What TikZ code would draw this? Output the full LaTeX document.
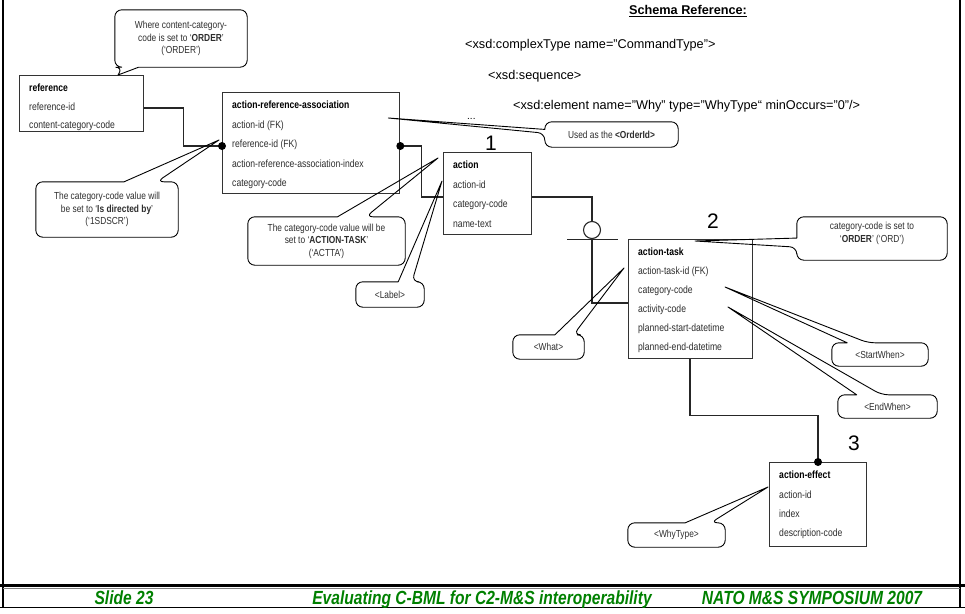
\documentclass[tikz,border=0pt]{standalone}
\usepackage{fontspec}
\setmainfont{Liberation Sans}
\newfontfamily\nar[FakeStretch=0.82]{Liberation Sans}
\usetikzlibrary{calc}
\definecolor{fgreen}{RGB}{0,128,0}
\definecolor{ink}{RGB}{45,45,45}
% callout outlines: #1 node, #2 #3 fractions along side, #4 tip
\newcommand{\callS}[4]{%
  \draw[callline] ($(#1.south west)!#3!(#1.south east)$) [rounded corners=7pt] -- (#1.south east) -- (#1.north east) -- (#1.north west) -- (#1.south west) -- ($(#1.south west)!#2!(#1.south east)$) [sharp corners] -- (#4) -- cycle;}
\newcommand{\callN}[4]{%
  \draw[callline] ($(#1.north west)!#2!(#1.north east)$) [rounded corners=7pt] -- (#1.north west) -- (#1.south west) -- (#1.south east) -- (#1.north east) -- ($(#1.north west)!#3!(#1.north east)$) [sharp corners] -- (#4) -- cycle;}
\newcommand{\callW}[4]{%
  \draw[callline] ($(#1.north west)!#2!(#1.south west)$) [rounded corners=7pt] -- (#1.north west) -- (#1.north east) -- (#1.south east) -- (#1.south west) -- ($(#1.north west)!#3!(#1.south west)$) [sharp corners] -- (#4) -- cycle;}
\newcommand{\errows}[4]{%
  \node[rowhead] (#1-h) at ($(#1.north west)+(10,16.8)$) {#3};
  \foreach \txt [count=\i] in {#4} \node[rowtext] (#1-\i) at ($(#1.north west)+(10,16.8+#2*\i)$) {\txt};}
\begin{document}
\begin{tikzpicture}[x=1pt,y=-1pt,
  erbox/.style={draw=black!80, line width=1.3pt, inner sep=0, anchor=north west},
  rowtext/.style={font=\nar\fontsize{10.5}{12}\selectfont, text=ink, anchor=base west, inner sep=0},
  rowhead/.style={font=\nar\bfseries\fontsize{10.5}{12}\selectfont, text=black, anchor=base west, inner sep=0},
  conn/.style={draw=black!85, line width=1.1pt},
  callbox/.style={inner sep=0, align=center, font=\nar\fontsize{10.2}{12.5}\selectfont, text=ink},
  callline/.style={draw=black, line width=0.9pt, line join=round},
  schema/.style={font=\fontsize{12.7}{15}\selectfont, anchor=base west, inner sep=0},
  num/.style={font=\fontsize{21}{24}\selectfont, anchor=base, inner sep=0},
  foot/.style={font=\nar\bfseries\itshape\fontsize{19}{22}\selectfont, text=fgreen, anchor=base, inner sep=0}]
\useasboundingbox (0,0) rectangle (965,613);

% frame
\draw[line width=2pt] (3,0) -- (3,608);
\draw[line width=2pt] (960,0) -- (960,585);
\draw[line width=1.2pt] (960,585) -- (960,608);
\draw[line width=3pt] (0,585) -- (965,585);
\draw[black!50, line width=0.8pt] (3,588.5) -- (960,588.5);
\draw[line width=1.2pt] (0,607.5) -- (965,607.5);

% footer
\node[foot] (f1) at (124,604) {Slide 23};
\node[foot] (f2) at (482,604) {Evaluating C-BML for C2-M\&S interoperability};
\node[foot] (f3) at (812,604) {NATO M\&S SYMPOSIUM 2007};

% schema text
\node[font=\bfseries\fontsize{12.7}{15}\selectfont, anchor=base, inner sep=0] (sr) at (688,14.5) {\underline{Schema Reference:}};
\node[schema] (x1) at (465,48.5) {<xsd:complexType name="CommandType">};
\node[schema] (x2) at (488,79.5) {<xsd:sequence>};
\node[schema] (x3) at (513,109.5) {<xsd:element name="Why" type="WhyType“ minOccurs="0"/>};
\node[font=\fontsize{10}{12}\selectfont, anchor=base west, inner sep=0] (dots) at (467,119) {...};

% entity boxes
\node[erbox, minimum width=124, minimum height=56] (ref) at (19,75) {};
\errows{ref}{18.5}{reference}{reference-id, content-category-code}
\node[erbox, minimum width=177, minimum height=101] (ara) at (222,92) {};
\errows{ara}{19.5}{action-reference-association}{{action-id (FK)}, {reference-id (FK)}, action-reference-association-index, category-code}
\node[erbox, minimum width=88, minimum height=82] (act) at (443,152) {};
\errows{act}{19.5}{action}{action-id, category-code, name-text}
\node[erbox, minimum width=124, minimum height=119] (task) at (628,239) {};
\errows{task}{19}{action-task}{{action-task-id (FK)}, category-code, activity-code, planned-start-datetime, planned-end-datetime}
\node[erbox, minimum width=97, minimum height=84] (eff) at (769,462) {};
\errows{eff}{19.3}{action-effect}{action-id, index, description-code}

% numbers
\node[num] (n1) at (491,150.5) {1};
\node[num] (n2) at (713,228.5) {2};
\node[num] (n3) at (854,450.5) {3};

% connectors
\draw[conn] ($(ref.north east)+(0,33)$) -- ++(39,0) |- ($(ara.north west)+(0,54)$);
\fill ($(ara.north west)+(0,54)$) circle (4);
\draw[conn] ($(ara.north east)+(0,54)$) -- ++(21,0) |- ($(act.north west)+(0,45)$);
\fill ($(ara.north east)+(0,54)$) circle (4);
\node[draw=black!85, line width=1.1pt, circle, minimum size=17, inner sep=0] (opt) at (592,230) {};
\draw[conn] ($(act.north east)+(0,45)$) -| (opt.north);
\draw[conn] ($(opt.south)+(-25,0)$) -- ($(opt.south)+(26,0)$);
\draw[conn] (opt.south) |- ($(task.north west)+(0,64)$);
\draw[conn] ($(task.south west)+(62,0)$) -- ++(0,56) -| ($(eff.north west)+(49,0)$);
\fill ($(eff.north west)+(49,0)$) circle (4);

% callout tips
\coordinate (tA) at ($(ref.north west)+(99,0)$);
\coordinate (tB) at ($(ara.north west)+(-3,48)$);
\coordinate (tC) at ($(act.north west)+(-5,6)$);
\coordinate (tD) at ($(act.north west)+(-1,29)$);
\coordinate (tE) at ($(ara.north east)+(-12,26)$);
\coordinate (tF) at ($(task.north west)+(67,2)$);
\coordinate (tG) at ($(task.north west)+(97,48)$);
\coordinate (tH) at ($(task.north west)+(100,68)$);
\coordinate (tI) at ($(task.north west)+(-4,29)$);
\coordinate (tJ) at ($(eff.north west)+(-1,25)$);

% callouts
\node[callbox, minimum width=132, minimum height=57] (cA) at (181,38.5) {Where content-category-\\code is set to ‘\textbf{ORDER}’\\(‘ORDER’)};
\callS{cA}{0.06}{0.18}{tA}
\node[callbox, minimum width=142, minimum height=55] (cB) at (107,209.5) {The category-code value will\\be set to ‘\textbf{Is directed by}’\\(‘1SDSCR’)};
\callN{cB}{0.62}{0.85}{tB}
\node[callbox, minimum width=157, minimum height=48] (cC) at (326.5,241) {The category-code value will be\\set to ‘\textbf{ACTION-TASK}’\\(‘ACTTA’)};
\callN{cC}{0.57}{0.75}{tC}
\node[callbox, minimum width=68, minimum height=25] (cD) at (390,294.5) {<Label>};
\callN{cD}{0.62}{0.82}{tD}
\node[callbox, minimum width=133, minimum height=25] (cE) at (611.5,134.5) {Used as the \textbf{<OrderId>}};
\callW{cE}{0.3}{0.45}{tE}
\node[callbox, minimum width=150, minimum height=43] (cF) at (872,238.5) {category-code is set to\\‘\textbf{ORDER}’ (‘ORD’)\\\mbox{}};
\callW{cF}{0.49}{0.7}{tF}
\node[callbox, minimum width=96, minimum height=23] (cG) at (880,354.5) {<StartWhen>};
\callN{cG}{0.16}{0.375}{tG}
\node[callbox, minimum width=99, minimum height=23] (cH) at (887.5,406.5) {<EndWhen>};
\callN{cH}{0.19}{0.44}{tH}
\node[callbox, minimum width=71, minimum height=24] (cI) at (548.5,347) {<What>};
\callN{cI}{0.59}{0.85}{tI}
\node[callbox, minimum width=97, minimum height=24] (cJ) at (676.5,535) {<WhyType>};
\callN{cJ}{0.59}{0.85}{tJ}
\end{tikzpicture}
\end{document}
